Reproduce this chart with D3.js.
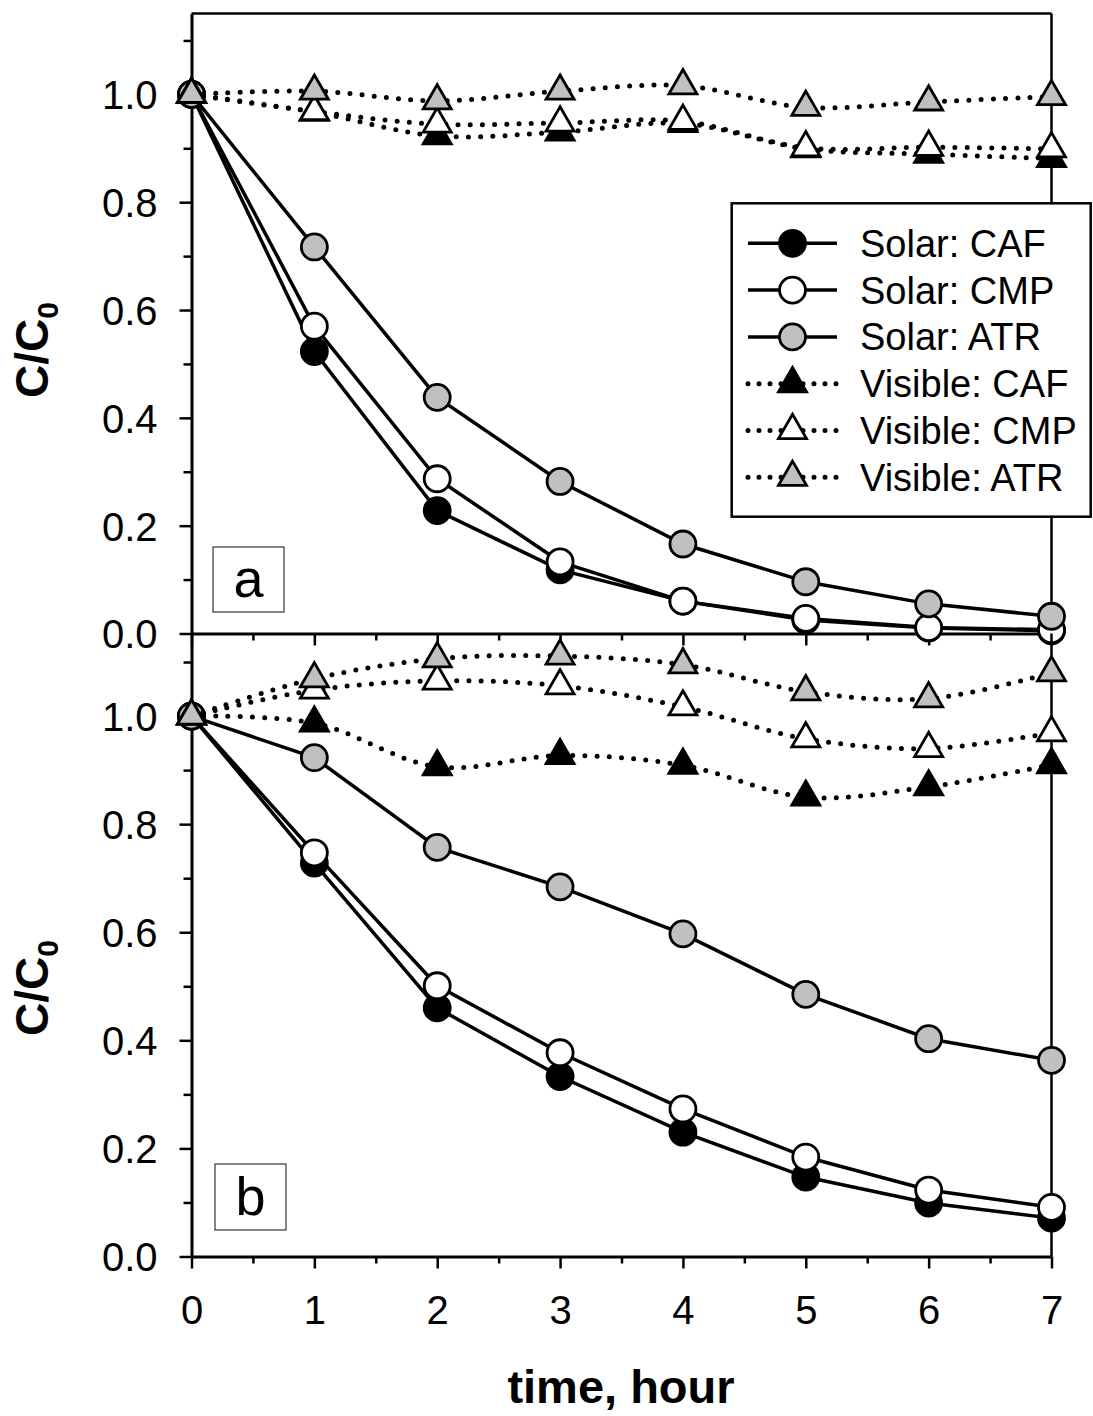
<!DOCTYPE html>
<html>
<head>
<meta charset="utf-8">
<script src="https://cdn.jsdelivr.net/npm/d3@7"></script>
<style>
  body { margin: 0; background: #fff; }
  .canvas { width: 1093px; height: 1416px; }
</style>
</head>
<body>
<div class="canvas"></div>
<script>
const font = "'Liberation Sans', Arial, Helvetica, sans-serif";

// data
const hours = [0, 1, 2, 3, 4, 5, 6, 7];
const seriesNames = ["Solar: CAF", "Solar: CMP", "Solar: ATR", "Visible: CAF", "Visible: CMP", "Visible: ATR"];

// panel a
const solarCAF_a = [1.0, 0.523, 0.228, 0.118, 0.060, 0.025, 0.010, 0.005];
const solarCMP_a = [1.0, 0.570, 0.287, 0.133, 0.060, 0.028, 0.011, 0.007];
const solarATR_a = [1.0, 0.717, 0.438, 0.282, 0.166, 0.096, 0.055, 0.032];
const visCAF_a = [1.0, 0.967, 0.923, 0.930, 0.946, 0.899, 0.889, 0.881];
const visCMP_a = [1.0, 0.968, 0.945, 0.947, 0.950, 0.901, 0.902, 0.899];
const visATR_a = [1.0, 1.006, 0.988, 1.006, 1.016, 0.976, 0.986, 0.996];

// panel b
const solarCAF_b = [1.0, 0.728, 0.460, 0.333, 0.230, 0.147, 0.099, 0.071];
const solarCMP_b = [1.0, 0.747, 0.501, 0.377, 0.273, 0.184, 0.123, 0.091];
const solarATR_b = [1.0, 0.923, 0.757, 0.684, 0.597, 0.485, 0.403, 0.363];
const visCAF_b = [1.0, 0.987, 0.906, 0.927, 0.909, 0.850, 0.869, 0.910];
const visCMP_b = [1.0, 1.048, 1.065, 1.056, 1.017, 0.958, 0.940, 0.969];
const visATR_b = [1.0, 1.069, 1.106, 1.111, 1.095, 1.045, 1.032, 1.080];

const yMajor = [0, 0.2, 0.4, 0.6, 0.8, 1.0];
const yMinor = [0.1, 0.3, 0.5, 0.7, 0.9, 1.1];
const xMajor = [0, 1, 2, 3, 4, 5, 6, 7];
const xMinor = [0.5, 1.5, 2.5, 3.5, 4.5, 5.5, 6.5];
const panelLabels = ["a", "b"];

// series styles: fill + solid/dotted
const styles = [
  { fill: "black", shape: "circle", dotted: false },
  { fill: "white", shape: "circle", dotted: false },
  { fill: "#c0c0c0", shape: "circle", dotted: false },
  { fill: "black", shape: "triangle", dotted: true },
  { fill: "white", shape: "triangle", dotted: true },
  { fill: "#c0c0c0", shape: "triangle", dotted: true },
];

const svg = d3.select(".canvas").append("svg")
  .attr("width", 1093).attr("height", 1416)
  .style("font-family", font);

const x = d3.scaleLinear().domain([0, 7]).range([191.5, 1051.5]);

const panels = [
  { y: d3.scaleLinear().domain([0, 1.15]).range([633.5, 13.5]), top: 13.5, bottom: 633.5,
    series: [solarCAF_a, solarCMP_a, solarATR_a, visCAF_a, visCMP_a, visATR_a],
    labelBox: [213, 547, 71, 65], titleY: 350 },
  { y: d3.scaleLinear().domain([0, 1.15]).range([1256.5, 635]), top: 633.5, bottom: 1256.5,
    series: [solarCAF_b, solarCMP_b, solarATR_b, visCAF_b, visCMP_b, visATR_b],
    labelBox: [215, 1164, 71, 66], titleY: 988 },
];

const triangle = d3.symbol().type(d3.symbolTriangle).size(340);

let drawMarker = (g, shape, fill, cx, cy) => {
  if (shape == "circle") {
    g.append("circle").attr("cx", cx).attr("cy", cy).attr("r", 13)
      .attr("fill", fill).attr("stroke", "black").attr("stroke-width", 2.8);
  } else {
    g.append("path").attr("d", triangle).attr("transform", `translate(${cx},${cy})`)
      .attr("fill", fill).attr("stroke", "black").attr("stroke-width", 2.8)
      .attr("stroke-linejoin", "miter");
  }
};

let styleAxis = (g, width) => {
  g.select(".domain").attr("stroke-width", width);
  g.selectAll(".tick line").attr("stroke-width", 2.5);
  g.selectAll("text").style("font-family", font).style("font-size", "40px").attr("fill", "black");
};

panels.forEach((p, pi) => {
  const g = svg.append("g");
  const y = p.y;

  // frame: top and right
  if (pi == 0) {
    g.append("line").attr("x1", x(0)).attr("x2", x(7)).attr("y1", p.top).attr("y2", p.top)
      .attr("stroke", "black").attr("stroke-width", 2.5);
  }
  g.append("line").attr("x1", x(7)).attr("x2", x(7)).attr("y1", p.top).attr("y2", p.bottom)
    .attr("stroke", "black").attr("stroke-width", 2.5);

  // y axis
  const yAx = g.append("g").attr("transform", `translate(${x(0)},0)`)
    .call(d3.axisLeft(y).tickValues(yMajor).tickSize(12).tickSizeOuter(0).tickPadding(22).tickFormat(d3.format(".1f")));
  yAx.selectAll("text").attr("dy", "0.36em");
  styleAxis(yAx, 3);
  const yAxMinor = g.append("g").attr("transform", `translate(${x(0)},0)`)
    .call(d3.axisLeft(y).tickValues(yMinor).tickSize(8).tickSizeOuter(0).tickFormat(""));
  yAxMinor.select(".domain").remove();
  styleAxis(yAxMinor, 3);

  // x axis
  const xAx = g.append("g").attr("transform", `translate(0,${p.bottom})`)
    .call(d3.axisBottom(x).tickValues(xMajor).tickSize(12).tickSizeOuter(0).tickPadding(27)
      .tickFormat(pi == 1 ? d3.format("d") : ""));
  styleAxis(xAx, 3);
  const xAxMinor = g.append("g").attr("transform", `translate(0,${p.bottom})`)
    .call(d3.axisBottom(x).tickValues(xMinor).tickSize(7).tickSizeOuter(0).tickFormat(""));
  xAxMinor.select(".domain").remove();
  styleAxis(xAxMinor, 3);

  // panel label box
  const lb = p.labelBox;
  g.append("rect").attr("x", lb[0]).attr("y", lb[1]).attr("width", lb[2]).attr("height", lb[3])
    .attr("fill", "white").attr("stroke", "#333").attr("stroke-width", 1.2);
  g.append("text").attr("x", lb[0] + lb[2] / 2).attr("y", lb[1] + lb[3] - 15)
    .attr("text-anchor", "middle").style("font-size", "54px").text(panelLabels[pi]);

  // y title
  const t = g.append("text")
    .attr("transform", `translate(48,${p.titleY}) rotate(-90)`)
    .attr("text-anchor", "middle")
    .style("font-size", "46px").style("font-weight", "bold");
  t.append("tspan").text("C/C");
  t.append("tspan").attr("dy", 10).style("font-size", "30px").text("0");

  // series
  p.series.forEach((vals, si) => {
    const st = styles[si];
    const pts = hours.map((h, i) => [x(h), y(vals[i])]);
    const line = d3.line().curve(st.dotted ? d3.curveCatmullRom : d3.curveLinear);
    g.append("path").attr("d", line(pts)).attr("fill", "none").attr("stroke", "black")
      .attr("stroke-width", st.dotted ? 5 : 3.5)
      .attr("stroke-linecap", st.dotted ? "round" : "butt")
      .attr("stroke-dasharray", st.dotted ? "0 12.2" : null);
    pts.forEach((d) => drawMarker(g, st.shape, st.fill, d[0], d[1]));
  });
});

// x title
svg.append("text").attr("x", 621).attr("y", 1403).attr("text-anchor", "middle")
  .style("font-size", "47px").style("font-weight", "bold").text("time, hour");

// legend
const legend = svg.append("g");
legend.append("rect").attr("x", 731.7).attr("y", 203.3).attr("width", 359).attr("height", 313.4)
  .attr("fill", "white").attr("stroke", "black").attr("stroke-width", 2.5);
seriesNames.forEach((name, i) => {
  const st = styles[i];
  const cy = 243.3 + i * 46.8;
  legend.append("line").attr("x1", 748).attr("x2", 837).attr("y1", cy).attr("y2", cy)
    .attr("stroke", "black").attr("stroke-width", st.dotted ? 5 : 3.5)
    .attr("stroke-linecap", st.dotted ? "round" : "butt")
    .attr("stroke-dasharray", st.dotted ? "0 11" : null);
  drawMarker(legend, st.shape, st.fill, 792.5, cy);
  legend.append("text").attr("x", 860).attr("y", cy + 13.5).style("font-size", "38px").text(name);
});
</script>
</body>
</html>
